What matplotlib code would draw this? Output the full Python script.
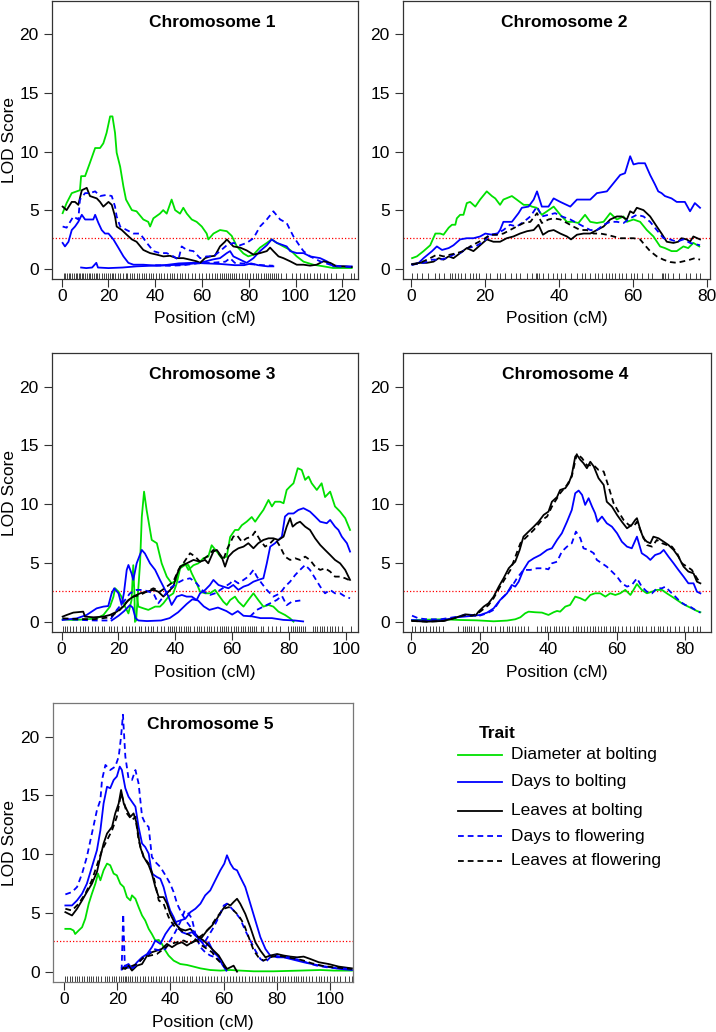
import matplotlib

matplotlib.use("Agg")

import matplotlib.pyplot as plt  # noqa: E402
from matplotlib.lines import Line2D  # noqa: E402

plt.rcParams["font.family"] = ["Liberation Sans", "DejaVu Sans"]

# ---------------------------------------------------------------- data
TRAITS = [
    "Diameter at bolting",
    "Days to bolting",
    "Leaves at bolting",
    "Days to flowering",
    "Leaves at flowering",
]
THRESHOLD = 2.58

# Chromosome 1 -------------------------------------------------------
chr1_diam = [(0.4, 4.74), (2.1, 5.6), (4.3, 6.45), (7.8, 6.7), (8.3, 7.9), (10, 7.9), (12, 9.0),
             (14.3, 10.3), (16.4, 10.3), (17.8, 10.7), (19.2, 11.6), (20.7, 13.0), (21.7, 13.0),
             (22.8, 11.6), (23.5, 9.9), (25, 8.7), (26.4, 7.0), (27.5, 5.9), (30, 5.0), (32, 4.9),
             (34.9, 4.2), (37, 4.0), (37.8, 3.6), (39.2, 4.3), (42, 4.7), (43.4, 5.0), (44.9, 4.7),
             (47, 5.9), (48.5, 5.0), (50.6, 4.7), (52, 5.2), (53.5, 4.7), (55.6, 4.2), (57.7, 4.0),
             (59.9, 3.6), (62, 3.0), (62.7, 2.5), (64.9, 3.0), (67.7, 3.3), (70.6, 3.2), (72.7, 2.8),
             (74.9, 1.9), (77.7, 1.3), (79.8, 1.05), (82, 1.2), (84.8, 1.8), (87.7, 2.2), (89.8, 2.5),
             (92, 2.2), (94.8, 1.9), (97.7, 1.6), (100.5, 1.05), (103.4, 0.6), (107.6, 0.34),
             (112, 0.2), (116, 0.06), (119, 0.06), (124, 0.06)]
chr1_daysbolt = [(0.4, 2.2), (1.4, 1.9), (2.9, 2.3), (4.3, 3.3), (5.7, 3.6), (7.1, 4.0), (8.6, 4.6),
                 (10, 4.2), (12.1, 4.2), (13.5, 4.2), (14.3, 4.6), (15.7, 3.9), (17.1, 3.3),
                 (18.5, 3.0), (20, 3.0), (22.1, 2.5), (24.2, 1.8), (26.4, 1.05), (28.5, 0.5),
                 (30.7, 0.34), (34.9, 0.34), (40.6, 0.26), (46, 0.3), (52, 0.35), (59.2, 0.5),
                 (64.9, 0.8), (67.7, 0.9), (70.6, 1.33), (72, 1.5), (73.4, 1.05), (76.3, 0.77),
                 (79.1, 0.5), (82, 0.9), (84.8, 1.5), (87.7, 2.0), (89.8, 2.5), (92, 2.2), (94.8, 2.0),
                 (96.2, 1.9), (97.7, 1.5), (100.5, 1.33), (103.4, 1.33), (106.2, 1.05), (110.5, 0.9),
                 (113.4, 0.63), (116.2, 0.2), (124, 0.2)]
chr1_daysbolt_2 = [(8.3, 0.1), (10.5, 0.05), (13, 0.1), (14.8, 0.5), (15.5, 0.1), (20, 0.05),
                   (26, 0.1), (32, 0.2), (38, 0.25), (44, 0.3), (50, 0.45), (56, 0.5), (62, 0.45),
                   (68, 0.4), (74, 0.3), (78, 0.3), (81, 0.45), (84, 0.3), (88, 0.2), (90.5, 0.2)]
chr1_leavesbolt = [(0.4, 5.3), (2.1, 5.0), (4.3, 5.7), (5.7, 5.7), (7.1, 5.45), (8.6, 6.7),
                   (10.7, 6.9), (12.1, 6.2), (15, 6.0), (16.4, 5.7), (17.8, 5.3), (20, 5.7),
                   (21.4, 5.45), (22.8, 4.46), (23.5, 3.6), (25.7, 3.3), (27.8, 2.9), (30, 2.5),
                   (32, 2.3), (34.9, 1.6), (37.8, 1.33), (40.6, 1.2), (43.5, 1.05), (46.3, 1.1),
                   (49.2, 0.9), (52, 0.9), (54.9, 0.77), (57.7, 0.63), (59.2, 0.5), (61.3, 0.9),
                   (63.4, 1.05), (65.5, 1.1), (67.7, 1.9), (69.8, 2.3), (70.6, 2.5), (72, 2.2),
                   (73.4, 1.9), (76.3, 1.8), (79.1, 1.56), (82, 1.2), (84.8, 1.33), (87.7, 1.5),
                   (89.1, 1.8), (90.5, 1.5), (92.7, 1.05), (94.8, 0.9), (97.7, 0.63), (100.5, 0.34),
                   (103.4, 0.34), (106.2, 0.26), (109, 0.34), (111.9, 0.63), (114.8, 0.5),
                   (117.6, 0.2), (120.5, 0.2), (124, 0.14)]
chr1_daysflow = [(0.4, 3.6), (2.1, 3.5), (5, 4.46), (7.1, 4.2), (7.8, 5.9), (10, 6.45), (12.1, 6.45),
                 (14.3, 6.6), (16.4, 6.2), (19.2, 6.3), (21.4, 6.2), (22.8, 5.3), (23.5, 4.46),
                 (25, 3.6), (27.8, 3.3), (30.7, 3.0), (33.5, 3.0), (36.4, 2.2), (39.2, 1.5),
                 (42, 1.33), (44.9, 1.33), (47.8, 1.05), (49.9, 0.77), (51.3, 1.9), (53.5, 1.6),
                 (56.3, 1.5), (59.2, 0.9), (62, 1.05), (64.9, 1.05), (67.7, 1.5), (70.6, 2.0),
                 (73.4, 2.2), (76.3, 2.0), (79.1, 2.2), (82, 2.6), (84.8, 3.6), (87.7, 4.2),
                 (90.5, 4.9), (93.4, 4.2), (96.2, 3.9), (97.7, 3.3), (99.1, 2.75), (101.9, 1.9),
                 (103.4, 1.5), (106.2, 1.05), (110.5, 0.63), (114.8, 0.34), (119, 0.2), (124, 0.14)]
chr1_daysflow_2 = [(40, 0.3), (46, 0.25), (52, 0.3), (58, 0.45), (64, 0.5), (70, 0.6), (72, 0.9),
                   (74, 0.5), (80, 0.4), (86, 0.3), (90.5, 0.25)]

# Chromosome 2 -------------------------------------------------------
chr2_diam = [(0.3, 0.9), (1.6, 1.05), (3.4, 1.5), (5.2, 2.0), (6.6, 3.0), (7.9, 3.0), (8.8, 2.9),
             (10.2, 3.5), (11.1, 3.75), (12, 3.75), (12.4, 4.3), (13.3, 4.6), (14.2, 4.6),
             (15.1, 5.6), (16, 5.7), (17.4, 5.3), (18.7, 5.9), (20.5, 6.6), (21.9, 6.2), (22.8, 6.0),
             (24.1, 5.45), (25, 5.9), (27.3, 6.2), (28.6, 5.9), (30.5, 5.45), (31.8, 5.45),
             (32.7, 5.3), (34, 5.2), (35.4, 4.6), (36.8, 4.9), (38.6, 5.3), (40.4, 4.6), (42.2, 4.0),
             (43.9, 4.0), (45.3, 3.9), (47.1, 4.6), (48.5, 4.0), (50.3, 3.9), (52.1, 4.0),
             (53.9, 4.74), (55.7, 4.2), (57.5, 4.46), (58.4, 4.0), (60.2, 4.2), (62, 4.0),
             (63.8, 3.3), (65.6, 2.75), (67.4, 1.9), (68.7, 1.76), (70.5, 1.5), (71.9, 1.5),
             (73.7, 1.9), (75, 1.76), (76.4, 2.2), (78, 1.9)]
chr2_daysbolt = [(0.3, 0.34), (2.1, 0.5), (3.4, 0.9), (5.7, 1.5), (7, 1.9), (8.4, 1.6), (10.2, 1.76),
                 (11.5, 2.0), (13.3, 2.5), (15.1, 2.6), (16.9, 2.6), (18.7, 2.75), (20.1, 3.0),
                 (21.9, 2.9), (23.2, 2.9), (24.1, 3.3), (25, 4.0), (26.4, 4.0), (27.3, 4.0),
                 (29.1, 4.74), (30, 5.2), (31.8, 5.3), (33.2, 5.9), (34.1, 6.6), (35.4, 5.3),
                 (37.2, 5.3), (38.6, 6.0), (40.4, 5.7), (43.1, 5.3), (44.9, 5.9), (46.7, 5.9),
                 (48.5, 5.9), (50.3, 6.45), (53, 6.6), (54.8, 7.3), (56.6, 8.0), (57.9, 8.15),
                 (59.3, 9.6), (60.2, 8.9), (61.5, 9.0), (63.3, 9.0), (64.7, 8.0), (66, 7.2),
                 (66.9, 6.6), (67.8, 6.45), (68.7, 6.2), (70.5, 6.0), (71.9, 5.7), (74.1, 5.7),
                 (75.5, 4.9), (76.8, 5.6), (78.2, 5.2)]
chr2_leavesbolt = [(0.3, 0.4), (2.5, 0.5), (4.3, 0.5), (6.1, 0.6), (7.5, 0.9), (8.8, 0.77),
                   (10.2, 1.05), (11.5, 0.9), (13.3, 1.33), (15.1, 1.76), (16.9, 1.5), (18.7, 2.0),
                   (20.5, 2.5), (22.3, 2.3), (24.1, 2.3), (25.9, 2.6), (27.7, 2.75), (29.5, 3.0),
                   (31.4, 3.2), (33.2, 3.3), (34.5, 3.75), (35.7, 2.9), (37.2, 3.2), (38.6, 3.3),
                   (40.4, 3.0), (42.2, 2.75), (43.3, 2.5), (44.9, 2.9), (46.7, 3.0), (48.5, 3.0),
                   (50.3, 3.3), (52.1, 3.6), (53.9, 4.2), (55.7, 4.46), (57, 4.46), (58.4, 4.2),
                   (59.3, 4.9), (60.2, 4.74), (61.1, 5.2), (62.9, 5.0), (64.7, 4.46), (66.5, 3.6),
                   (67.8, 3.0), (69.2, 2.3), (71, 2.2), (72.3, 2.3), (73.2, 2.6), (74.6, 2.5),
                   (75.5, 2.3), (76.4, 2.75), (78.2, 2.5)]
chr2_daysflow = [(0.3, 0.34), (3.4, 0.5), (5.7, 0.77), (7.9, 0.77), (9.7, 0.9), (11.5, 1.2),
                 (13.3, 1.33), (15.1, 1.76), (17.4, 1.9), (19.6, 2.3), (21.4, 2.9), (23.2, 3.0),
                 (25, 3.3), (26.8, 3.75), (28.6, 3.6), (30.5, 4.0), (32.3, 4.46), (34.1, 5.3),
                 (35.4, 4.46), (37.2, 4.6), (39, 4.74), (40.8, 4.46), (43.1, 4.2), (44.9, 3.9),
                 (46.7, 3.6), (48.5, 3.3), (50.3, 3.3), (52.1, 3.75), (53.9, 4.0), (55.7, 4.0),
                 (57.5, 3.9), (59.3, 4.3), (61.1, 4.6), (62.9, 4.46), (64.7, 4.0), (66.5, 3.3),
                 (68.3, 2.6), (70.1, 2.5), (71.9, 2.3), (73.7, 2.5), (75.5, 2.2), (78.2, 2.0)]
chr2_leavesflow = [(0.3, 0.34), (2.5, 0.5), (5.2, 0.9), (7, 1.2), (8.8, 1.05), (10.6, 1.2),
                   (12.4, 1.33), (14.2, 1.5), (16, 1.9), (17.8, 2.2), (19.6, 2.5), (21.4, 2.9),
                   (23.2, 2.9), (25, 3.0), (26.8, 3.3), (28.6, 3.6), (30.5, 3.9), (32.3, 4.0),
                   (34.1, 4.74), (35.4, 3.9), (37.2, 4.2), (38.6, 4.3), (40.4, 4.2), (42.2, 3.9),
                   (43.9, 3.6), (45.8, 3.3), (47.6, 3.3), (49.4, 3.0), (51.2, 3.0), (53, 2.9),
                   (54.8, 2.75), (56.6, 2.6), (58.4, 2.6), (60.2, 2.6), (62, 2.5), (63.3, 2.0),
                   (64.7, 1.5), (66.5, 1.05), (68.3, 0.77), (70.1, 0.57), (71.9, 0.5), (73.7, 0.63),
                   (75.5, 0.77), (76.8, 0.9), (78.2, 0.77)]

# Chromosome 3 -------------------------------------------------------
chr3_diam = [(0.35, 0.2), (4.1, 0.14), (8.8, 0.2), (12.3, 0.28), (14.7, 0.57), (17, 1.28),
             (18.2, 2.1), (18.8, 2.84), (20, 2.55), (21.1, 2.1), (22.3, 1.28), (23.5, 0.7),
             (24.6, 1.84), (25.2, 4.8), (25.6, 2.4), (25.8, 0.0)]
chr3_diam_2 = [(26.2, 0.1), (27.6, 5.0), (28.2, 8.9), (29, 11.06), (29.9, 9.5), (31.7, 6.95),
               (33.5, 6.67), (35.2, 4.96), (37, 3.83), (38.7, 3.26), (40.5, 3.55), (41.7, 4.68),
               (43.4, 4.96), (44.6, 4.4), (46.4, 4.8), (48.1, 4.96), (49.9, 5.4), (51.6, 5.53),
               (52.8, 6.5), (54.6, 5.96), (56.3, 5.4), (58.1, 5.53), (59.3, 7.2), (61, 7.8),
               (62.2, 7.8), (63.4, 8.2), (65.1, 8.5), (66.9, 8.9), (68.1, 8.5), (69.8, 9.1),
               (71, 9.5), (72.8, 10.35), (74, 9.8), (75.1, 10.2), (76.9, 10.2), (78.1, 10.07),
               (79.2, 11.2), (80.4, 11.5), (81.6, 11.77), (83.1, 13.05), (84.5, 12.9), (85.7, 12.06),
               (86.9, 12.34), (88, 11.77), (89.8, 11.2), (91.5, 11.77), (92.7, 10.6), (94.5, 11.06),
               (96.2, 9.8), (98, 9.36), (99.8, 8.8), (101.5, 7.8)]
chr3_diam_3 = [(26.4, 2.27), (27, 1.28), (28.8, 1.13), (30.5, 1.0), (32.9, 1.28), (34.6, 1.28),
               (35.8, 1.56), (37.6, 2.13), (39.3, 2.41), (40.5, 3.26), (41.7, 4.54), (43.4, 4.82),
               (44.6, 4.82), (45.8, 4.1), (47.5, 3.26), (48.7, 2.55), (50.5, 2.41), (52.2, 2.41),
               (54, 2.7), (55.2, 2.27), (56.9, 1.7), (58.1, 1.42), (59.3, 1.84), (61, 2.13),
               (62.2, 1.7), (64, 1.28), (65.7, 1.84), (67.5, 2.41), (69.2, 1.84), (71, 1.28),
               (72.8, 1.42), (74.5, 1.28), (76.3, 0.85), (78.6, 0.57), (80.4, 0.28), (81.6, 0.0)]
chr3_daysbolt = [(0.35, 0.14), (5.3, 0.28), (8.8, 0.57), (12.3, 1.13), (14.7, 1.28), (16.4, 1.33),
                 (17.6, 2.41), (18.5, 2.84), (20, 2.41), (21.1, 1.42), (21.9, 2.41), (22.9, 4.4),
                 (23.5, 4.82), (24.6, 4.1), (25.2, 3.55), (26.4, 4.96), (28.2, 6.1), (29.3, 5.8),
                 (31.1, 4.96), (32.9, 4.4), (34.6, 3.55), (36.4, 2.7), (37.6, 2.13), (38.7, 1.42),
                 (40.5, 2.13), (42.3, 2.27), (44, 2.13), (45.8, 2.13), (47.5, 1.84), (48.7, 2.41),
                 (50.5, 2.7), (52.2, 3.12), (53.4, 3.55), (55.2, 3.12), (56.9, 2.98), (58.7, 2.84),
                 (60.4, 3.12), (62.2, 2.7), (64, 2.98), (65.7, 3.12), (67.5, 3.4), (69.2, 3.55),
                 (71, 3.69), (72.2, 4.96), (73.4, 6.38), (75.1, 6.67), (76.3, 6.95), (77.5, 7.23),
                 (78.6, 8.94), (79.8, 9.2), (81.6, 9.2), (83.3, 9.5), (85.1, 9.65), (87.4, 9.36),
                 (89.2, 8.94), (91, 8.5), (93.3, 8.37), (94.5, 8.65), (96.2, 8.08), (97.4, 7.8),
                 (98.6, 7.23), (100.4, 6.67), (101.5, 5.96)]
chr3_daysbolt_2 = [(17.6, 0.1), (20, 0.5), (22, 0.9), (24, 1.4), (25, 1.2), (26, 0.3), (27, 0.1),
                   (30, 0.05), (35, 0.1), (38, 0.3), (41, 0.8), (44, 1.5), (46, 1.9), (48, 1.8),
                   (50, 1.3), (52, 1.0), (55, 1.2), (58, 0.9), (60, 0.6), (62, 0.9), (64, 0.5),
                   (67, 0.45), (70, 0.3), (74, 0.3), (78, 0.15), (82, 0.1), (85, 0.02)]
chr3_leavesbolt = [(0.35, 0.43), (1.8, 0.57), (4.1, 0.77), (7.6, 0.85), (8.2, 0.43), (11.2, 0.37),
                   (14.7, 0.43), (17, 0.57), (19.4, 0.85), (21.7, 1.28), (23.5, 1.84), (25.2, 2.13),
                   (27.6, 2.41), (29.9, 2.55), (32.3, 2.7), (34, 2.55), (35.8, 2.13), (37.6, 2.55),
                   (39.3, 2.98), (40.5, 3.97), (41.7, 4.68), (44, 4.96), (46.4, 5.25), (48.7, 5.1),
                   (50.5, 5.25), (51.6, 4.96), (53.4, 5.96), (54.6, 6.1), (56.3, 5.53), (57.5, 4.68),
                   (58.7, 5.53), (60.4, 5.96), (62.2, 6.24), (64, 6.38), (65.7, 6.67), (67.5, 6.24),
                   (69.2, 6.67), (71, 6.95), (72.8, 7.09), (74.5, 7.09), (76.3, 6.95), (78.1, 7.23),
                   (79.2, 8.08), (80.4, 8.8), (81.3, 8.08), (82.7, 8.37), (83.9, 8.5), (85.7, 8.08),
                   (87.4, 7.8), (89.2, 7.09), (91, 6.52), (92.7, 6.1), (94.5, 5.67), (96.2, 5.25),
                   (98, 4.96), (99.8, 4.4), (101.5, 3.55)]
chr3_daysflow = [(0.35, 0.25), (6, 0.15), (12, 0.1), (17, 0.1), (19.4, 1.0), (22.3, 1.84),
                 (24, 2.4), (26.4, 2.7), (28.8, 2.7), (32.3, 2.41), (34, 1.56), (35.8, 2.13),
                 (38.1, 2.84), (40.5, 3.26), (42.8, 3.55), (45.2, 3.69), (47.5, 3.26), (49.9, 2.55),
                 (52.2, 2.27), (54, 2.41), (55.8, 2.7), (57.5, 2.98), (59.3, 3.26), (60.4, 3.55),
                 (62.2, 3.26), (64, 3.55), (65.7, 3.83), (67.5, 4.4), (68.7, 3.83), (70.4, 3.26),
                 (72.2, 2.7), (74.5, 2.13), (76.9, 2.41), (78.6, 2.98), (80.4, 3.4), (82.2, 3.97),
                 (83.9, 4.4), (85.7, 4.82), (87.4, 4.4), (89.2, 3.69), (91, 2.98), (92.7, 2.41),
                 (94.5, 2.7), (96.2, 2.41), (98, 2.41), (99.8, 2.13), (101.5, 1.99)]
chr3_daysflow_2 = [(66.3, 0.43), (68.7, 1.0), (71, 1.28), (73.4, 1.56), (75.7, 1.84), (77.5, 2.2),
                   (79.2, 1.4), (81, 1.7), (84, 1.8)]
chr3_leavesflow = [(0.35, 0.28), (5.3, 0.23), (11.2, 0.2), (17, 0.37), (20.5, 1.0), (22.9, 1.7),
                   (25.2, 2.13), (27.6, 2.27), (29.9, 2.55), (32.3, 2.84), (34.6, 2.55), (37, 2.98),
                   (39.3, 3.4), (41.1, 4.4), (42.8, 4.96), (45.2, 5.82), (47, 5.53), (48.7, 5.1),
                   (51.1, 5.53), (53.4, 6.1), (55.2, 5.82), (56.9, 5.25), (58.1, 6.1), (60.4, 7.23),
                   (61.6, 7.38), (63.4, 6.8), (65.1, 7.09), (66.9, 7.23), (68.1, 7.66), (69.8, 6.95),
                   (71.6, 6.38), (73.4, 6.67), (75.1, 7.09), (76.9, 6.38), (78.6, 5.53), (80.4, 5.25),
                   (82.2, 5.39), (83.9, 5.25), (85.7, 5.53), (87.4, 5.25), (89.2, 4.68), (91, 4.4),
                   (92.7, 4.54), (94.5, 4.26), (96.2, 3.83), (98, 3.83), (99.8, 3.69), (101.5, 3.5)]

# Chromosome 4 -------------------------------------------------------
chr4_diam = [(0.3, 0.14), (9.5, 0.2), (14.4, 0.14), (19.2, 0.11), (24.1, 0.03), (28, 0.09),
             (30.4, 0.2), (31.9, 0.37), (33.3, 0.71), (34.3, 0.85), (36.2, 0.8), (38.2, 0.77),
             (40.1, 0.57), (41.6, 0.8), (42.6, 0.91), (43.5, 0.85), (45, 1.28), (46.4, 1.42),
             (47.9, 2.13), (49.4, 1.99), (50.8, 1.79), (52.3, 2.27), (53.7, 2.41), (55.2, 2.41),
             (56.7, 2.13), (58.1, 2.41), (59.6, 2.27), (61, 2.41), (62.5, 2.7), (64, 2.27),
             (64.9, 2.7), (65.9, 3.2), (67.3, 2.7), (68.8, 2.41), (70.3, 2.55), (71.7, 2.7),
             (73.2, 2.7), (74.6, 2.41), (76.1, 2.13), (77.6, 1.84), (79, 1.56), (80.5, 1.33),
             (81.9, 1.13), (83.4, 0.91), (84.4, 0.8)]
chr4_daysbolt = [(0.3, 0.14), (4.7, 0.06), (9.5, 0.14), (13.4, 0.37), (17.3, 0.48), (20.2, 0.57),
                 (22.2, 0.77), (24.1, 1.13), (26, 1.84), (28, 2.41), (29.4, 3.12), (30.4, 2.98),
                 (31.4, 3.4), (32.8, 4.4), (34.3, 5.1), (35.8, 5.39), (37.7, 5.67), (39.7, 6.1),
                 (41.1, 6.24), (42.6, 6.95), (44, 7.52), (45.5, 8.5), (46.9, 9.5), (47.9, 10.92),
                 (48.9, 11.15), (49.9, 10.78), (50.8, 9.93), (51.8, 10.5), (52.8, 9.79),
                 (53.7, 9.22), (54.4, 8.5), (55.7, 8.94), (57.1, 8.37), (58.6, 8.08), (60.1, 7.52),
                 (61.5, 6.8), (63, 6.38), (64.4, 6.24), (65.9, 7.23), (67.3, 5.82), (68.8, 5.53),
                 (69.8, 5.25), (71.2, 5.67), (72.7, 5.82), (73.7, 6.1), (75.1, 5.53), (76.6, 4.96),
                 (78, 4.4), (79.5, 3.83), (80.9, 3.26), (82.4, 3.26), (83.4, 2.55), (84.4, 2.41)]
chr4_leavesbolt = [(0.3, 0.06), (4.7, 0.0), (9.5, 0.06), (12.4, 0.28), (14.4, 0.48), (15.8, 0.62),
                   (17.8, 0.57), (18.8, 0.51), (19.7, 0.85), (21.2, 1.28), (22.6, 1.56), (24.1, 2.13),
                   (25.6, 2.98), (27, 3.69), (28.5, 4.54), (29.4, 4.82), (30.4, 5.1), (31.7, 6.1),
                   (32.8, 7.23), (34.3, 7.66), (35.8, 8.08), (37.2, 8.5), (38.7, 9.08), (40.1, 9.36),
                   (41.1, 10.2), (42.6, 10.6), (43.5, 11.2), (45, 11.35), (46, 11.77), (46.9, 12.48),
                   (47.9, 14.04), (48.4, 14.18), (49.4, 13.76), (50.3, 13.48), (51.3, 13.05),
                   (52.3, 13.6), (53.3, 13.2), (54.7, 12.2), (56.2, 11.63), (57.1, 10.2),
                   (58.6, 9.79), (60.1, 9.08), (61.5, 8.5), (63, 7.94), (64.4, 8.23), (65.4, 8.65),
                   (65.9, 8.8), (66.9, 7.8), (67.8, 7.09), (68.8, 6.8), (69.8, 6.67), (70.7, 7.23),
                   (72.2, 7.09), (73.7, 6.8), (75.1, 6.52), (76.6, 6.1), (78, 5.53), (79.5, 4.68),
                   (80.9, 4.26), (82.4, 4.11), (83.4, 3.4), (84.4, 3.26)]
chr4_daysflow = [(0.3, 0.51), (2.2, 0.28), (4.7, 0.2), (8.6, 0.2), (12.4, 0.37), (16.3, 0.57),
                 (19.7, 0.48), (22.2, 0.71), (24.1, 1.0), (26, 1.84), (28, 2.41), (29.4, 2.98),
                 (30.9, 3.69), (32.8, 4.4), (34.8, 4.4), (36.7, 4.54), (38.7, 4.54), (40.1, 4.45),
                 (41.1, 4.96), (42.6, 5.1), (44, 5.96), (45.5, 6.38), (46.9, 6.67), (48.1, 7.66),
                 (49.4, 7.09), (50.3, 6.24), (51.8, 6.1), (53.3, 5.82), (54.2, 5.25), (55.7, 4.96),
                 (57.1, 4.68), (58.6, 4.26), (60.1, 3.83), (61.5, 3.26), (63, 2.98), (64.4, 3.12),
                 (65.9, 3.69), (67.3, 2.98), (68.8, 2.55), (70.3, 2.41), (71.7, 2.84), (73.2, 2.84),
                 (74.2, 2.98), (75.6, 2.55), (77.1, 2.13), (78.5, 1.7), (80, 1.42), (81.4, 1.28),
                 (82.9, 1.0), (84.4, 0.77)]
chr4_leavesflow = [(0.3, 0.06), (4.7, 0.0), (9.5, 0.06), (12.4, 0.28), (14.4, 0.45), (15.8, 0.55),
                   (17.8, 0.5), (19.7, 0.75), (22.6, 1.4), (24.1, 2.0), (26, 2.98), (29, 4.4),
                   (31.9, 6.67), (33.3, 7.09), (35.8, 7.8), (38.2, 8.65), (39.7, 8.94), (41.1, 9.79),
                   (43.5, 10.92), (45.5, 11.63), (46.9, 12.34), (48.4, 14.3), (49.9, 13.9),
                   (51.3, 13.3), (53.3, 13.3), (54.7, 12.9), (56.2, 12.77), (57.6, 11.5),
                   (59.1, 10.07), (60.5, 9.36), (62, 8.65), (63.5, 8.23), (64.9, 8.08), (65.9, 8.5),
                   (67.3, 7.52), (68.8, 6.52), (70.3, 6.38), (71.7, 6.95), (73.2, 6.67), (74.6, 6.52),
                   (76.1, 6.38), (77.6, 5.82), (79, 4.96), (80.5, 4.68), (81.9, 4.4), (83.4, 3.69),
                   (84.4, 3.26)]

# Chromosome 5 -------------------------------------------------------
chr5_diam = [(0.4, 3.64), (2.3, 3.64), (3.5, 3.5), (4.1, 3.2), (5.4, 3.5), (6.7, 3.78), (7.9, 4.5),
             (9.2, 5.78), (10.4, 6.63), (11.7, 7.48), (12.7, 8.34), (13.6, 7.77), (14.8, 8.62),
             (16.1, 9.19), (17.3, 9.05), (18.6, 8.34), (19.8, 8.19), (21.1, 7.48), (22.4, 7.2),
             (23.6, 6.34), (24.9, 6.06), (25.5, 6.49), (26.8, 6.2), (28, 5.49), (29.3, 4.78),
             (30.5, 4.35), (31.8, 3.64), (33, 3.2), (34.3, 2.65), (35.6, 2.7), (36.8, 2.36),
             (38.1, 1.79), (39.3, 1.37), (41.2, 0.94), (43.7, 0.65), (46.2, 0.57), (48.7, 0.43),
             (51.3, 0.28), (55, 0.14), (58.8, 0.09), (62.6, 0.14), (66.3, 0.09), (71.4, 0.03),
             (78.9, 0.03), (88.9, 0.09), (96.5, 0.14), (101.5, 0.09), (108.4, 0.09)]
chr5_daysbolt = [(0.4, 5.63), (2.9, 5.63), (4.8, 6.06), (6.7, 6.63), (8.5, 7.48), (10.4, 8.9),
                 (12.3, 10.33), (13.6, 12.03), (14.8, 14.3), (16.1, 15.73), (17.3, 15.6),
                 (18.6, 16.3), (19.8, 16.6), (20.9, 17.44), (21.7, 17.15), (23, 15.6), (24.2, 14.88),
                 (25.5, 14.45), (26.8, 14.03), (28, 12.3), (29.3, 10.9), (30.5, 10.6), (31.8, 10.04),
                 (33, 8.34), (34.9, 8.05), (36.2, 7.9), (37.4, 7.2), (38.7, 6.06), (39.9, 5.2),
                 (41.2, 4.64), (42.5, 3.93), (44.3, 3.36), (46.2, 3.2), (48.1, 3.36), (50, 2.93),
                 (51.9, 2.5), (53.1, 2.08), (54.4, 2.5), (56.3, 1.65), (58.2, 1.22), (59.4, 0.65),
                 (61.1, 0.09)]
chr5_daysbolt_2 = [(21.7, 0.23), (23, 0.51), (24.2, 0.65), (25.5, 0.28), (27.4, 0.8), (29.3, 1.22),
                   (31.2, 1.5), (33, 2.08), (34.3, 2.65), (36.2, 2.36), (38.1, 3.2), (39.9, 3.78),
                   (41.8, 4.21), (43.7, 4.35), (45.6, 4.5), (47.5, 5.06), (49.4, 5.35), (51.3, 5.78),
                   (53.1, 6.49), (55, 6.91), (56.9, 7.77), (58.8, 8.62), (60.3, 9.19), (61.3, 9.9),
                   (62.6, 9.19), (63.8, 8.76), (65.1, 8.62), (66.3, 8.05), (68.2, 7.2), (70.1, 5.78),
                   (72, 4.35), (73.9, 2.93), (75.8, 1.93), (77.6, 1.37), (80.2, 1.22), (82.7, 1.22),
                   (85.2, 1.08), (87.7, 0.94), (90.2, 0.8), (93.3, 0.65), (96.5, 0.51), (100.3, 0.37),
                   (104, 0.23), (108.4, 0.14)]
chr5_leavesbolt = [(0.4, 5.06), (2.9, 4.78), (4.8, 5.35), (6.7, 6.06), (8.5, 6.77), (10.4, 7.48),
                   (12.3, 8.48), (13.6, 9.76), (14.8, 10.9), (16.1, 11.75), (18, 12.32), (19.2, 13.46),
                   (20.5, 14.31), (21.4, 15.45), (22.4, 14.31), (23.6, 13.74), (24.9, 13.17),
                   (26.1, 13.46), (27.1, 12.75), (28.6, 10.61), (29.9, 9.76), (31.8, 9.05),
                   (33, 8.34), (34.3, 7.2), (35.6, 6.34), (37.4, 6.34), (38.7, 5.78), (39.9, 4.92),
                   (41.8, 4.07), (43.7, 3.64), (45.6, 3.5), (47.5, 3.64), (48.7, 3.36), (50.6, 2.93),
                   (52.5, 2.65), (54.4, 2.22), (56.3, 1.79), (58.2, 1.37), (60.1, 0.65), (61.3, 0.23),
                   (62.6, 0.37), (63.8, 0.51), (65.1, 0.0)]
chr5_leavesbolt_2 = [(21.7, 0.37), (23, 0.23), (24.2, 0.51), (25.5, 0.09), (27.4, 0.51),
                     (29.3, 0.65), (31.2, 1.37), (33, 1.65), (34.9, 1.79), (36.7, 1.93), (38.7, 2.36),
                     (40.6, 2.08), (42.5, 2.36), (44.3, 2.5), (46.2, 2.22), (48.1, 2.5), (50, 2.65),
                     (51.9, 2.93), (53.8, 3.5), (55.7, 3.93), (57.5, 4.5), (59.4, 5.2), (61.3, 5.78),
                     (62.6, 5.63), (63.8, 5.92), (65.1, 6.2), (66.3, 5.78), (68.2, 4.92), (70.1, 3.78),
                     (72, 2.5), (73.9, 1.79), (75.8, 1.22), (77.6, 1.37), (80.2, 1.5), (82.7, 1.37),
                     (85.2, 1.28), (87.7, 1.22), (90.2, 1.28), (92.7, 1.08), (95.9, 0.8), (99.6, 0.65),
                     (103.4, 0.43), (108.4, 0.28)]
chr5_daysflow = [(0.4, 6.57), (2.9, 6.77), (4.8, 7.2), (6.7, 8.34), (8.5, 9.76), (10.4, 11.75),
                 (12.3, 13.74), (13.6, 14.6), (14.2, 16.3), (15.5, 17.58), (17.3, 17.15),
                 (19.2, 17.44), (20.5, 18.29), (21.4, 20.0), (22.1, 21.85), (23, 18.3), (24.2, 16.44),
                 (25.5, 16.3), (26.8, 17.15), (28, 16.0), (29.3, 13.2), (30.5, 12.6), (31.8, 12.3),
                 (33, 9.76), (34.3, 9.33), (36.2, 8.9), (38.1, 8.2), (39.9, 7.48), (41.2, 6.77),
                 (42.5, 5.78), (44.3, 4.92), (46.2, 4.21), (48.1, 3.64), (50, 2.79), (51.3, 2.08),
                 (53.1, 1.65), (55, 1.37), (56.9, 1.22), (58.8, 0.94), (60.7, 0.23)]
chr5_daysflow_2 = [(21.6, 0.1), (22.2, 4.9), (22.8, 0.5), (23.6, 0.37), (25.5, 0.23), (27.4, 0.65),
                   (29.3, 1.08), (31.8, 1.5), (33.7, 1.93), (36.2, 1.79), (38.1, 1.93), (39.9, 2.65),
                   (41.8, 3.36), (43.7, 4.21), (45.4, 5.2), (46.9, 4.92), (48.1, 4.5), (49.4, 3.2),
                   (51.3, 2.65), (52.5, 2.36), (54.4, 3.07), (56.3, 3.78), (58.2, 4.64), (60.1, 5.63),
                   (61.3, 5.78), (62.6, 5.49), (64.4, 5.06), (66.3, 4.5), (68.2, 3.5), (70.1, 2.65),
                   (72, 1.79), (73.9, 1.08), (75.8, 0.8), (77.6, 1.22), (79.5, 1.37), (82, 1.22),
                   (84.5, 1.22), (87.1, 1.08), (89.6, 0.94), (92.1, 0.71), (95.2, 0.51), (99, 0.37),
                   (102.8, 0.28), (108.4, 0.23)]
chr5_leavesflow = [(0.4, 5.35), (2.9, 5.2), (5.4, 5.78), (7.9, 6.63), (10.4, 7.77), (12.3, 9.05),
                   (14.2, 10.33), (16.1, 11.18), (18, 12.03), (19.8, 13.17), (21.4, 15.16),
                   (22.4, 14.45), (23.6, 13.46), (25.5, 12.89), (26.8, 13.17), (28, 11.18),
                   (29.9, 9.76), (31.8, 9.19), (33.7, 8.05), (35.6, 6.06), (37.4, 5.78), (39.3, 4.64),
                   (41.2, 3.93), (43.1, 3.64), (45, 3.36), (47.5, 3.07), (50, 2.65), (51.9, 2.22),
                   (53.8, 1.93), (55.7, 1.65), (57.5, 1.08), (59.4, 0.65), (61.3, 0.23)]
chr5_leavesflow_2 = [(21.7, 0.23), (24.2, 0.37), (27.4, 0.65), (29.9, 1.22), (32.4, 1.37),
                     (34.9, 1.5), (37.4, 1.93), (39.9, 2.36), (42.5, 2.5), (45, 2.65), (47.5, 2.36),
                     (50, 2.79), (52.5, 3.2), (55, 3.78), (57.5, 4.64), (60.1, 5.35), (62, 5.49),
                     (63.8, 5.2), (65.7, 4.78), (67.6, 4.07), (69.5, 2.93), (71.4, 1.79), (73.2, 1.22),
                     (75.1, 0.94), (77.6, 1.22), (80.2, 1.37), (82.7, 1.28), (85.2, 1.17), (87.7, 1.08),
                     (90.2, 0.94), (93.3, 0.71), (97, 0.51), (101.5, 0.37), (108.4, 0.23)]

# Marker positions (cM) drawn as a rug along each x axis ----------------
chr1_markers = [0.8, 1.5, 2.2, 3.0, 3.6, 4.4, 5.1, 5.9, 6.5, 7.2, 8.0, 8.6, 9.3, 10.1, 10.8, 11.5,
                12.3, 13.0, 13.8, 14.5, 15.3, 16.0, 17.2, 18.0, 18.9, 19.7, 20.6, 21.3, 22.1, 23.0,
                24.2, 25.0, 26.1, 27.3, 28.0, 29.2, 30.1, 31.0, 32.4, 33.2, 34.5, 35.3, 36.1, 37.5,
                38.2, 39.0, 40.3, 41.4, 42.6, 43.8, 45.0, 46.1, 47.2, 48.0, 49.3, 50.5, 51.6, 52.8,
                54.0, 55.6, 57.0, 58.8, 60.1, 61.5, 63.0, 64.2, 65.7, 66.5, 67.8, 68.6, 69.5, 70.4,
                71.1, 72.0, 72.9, 73.6, 74.5, 75.8, 77.0, 78.3, 79.4, 80.6, 81.7, 83.0, 84.1, 85.2,
                86.5, 87.3, 88.4, 89.0, 89.9, 90.6, 91.5, 92.4, 93.7, 96.0, 98.5, 100.2, 101.8,
                103.5, 104.9, 106.3, 107.8, 109.2, 110.6, 112.0, 113.5, 115.0, 117.2, 120.4,
                123.6, 125.0]
chr2_markers = [0.3, 1.6, 3.0, 4.5, 6.4, 7.5, 9.0, 10.5, 11.2, 12.0, 12.8, 13.5, 14.6, 16.0, 16.9,
                17.6, 18.5, 20.3, 21.5, 23.3, 24.2, 25.5, 27.0, 28.4, 29.6, 31.5, 32.7, 33.8, 34.2,
                34.6, 35.7, 37.0, 38.5, 39.5, 40.6, 41.8, 43.4, 45.0, 46.3, 47.0, 48.5, 49.8, 50.6,
                51.7, 52.8, 53.6, 54.5, 55.3, 56.2, 57.0, 58.3, 59.5, 60.3, 61.2, 62.5, 64.0, 65.3,
                67.8, 68.3, 68.8, 69.5, 71.0, 72.4, 74.5, 75.6, 77.0, 78.2]
chr3_markers = [0.3, 1.2, 2.0, 3.0, 4.0, 5.2, 6.3, 7.5, 8.2, 9.3, 10.6, 11.8, 12.9, 14.1, 15.0,
                16.5, 17.3, 18.4, 19.4, 21.3, 22.5, 23.6, 24.8, 25.9, 27.1, 28.0, 29.2, 30.3, 31.5,
                32.2, 33.5, 34.8, 35.9, 37.4, 38.3, 38.9, 39.5, 40.3, 41.2, 42.0, 43.0, 43.9, 44.5,
                45.3, 46.6, 47.6, 48.5, 49.2, 50.1, 51.0, 51.9, 52.6, 53.5, 54.8, 55.6, 56.3, 57.0,
                57.8, 58.7, 59.6, 60.5, 61.4, 62.1, 63.0, 63.8, 64.6, 65.5, 66.4, 67.0, 67.7, 68.5,
                70.0, 71.0, 72.5, 74.1, 75.3, 76.8, 79.8, 80.6, 81.4, 82.0, 82.8, 83.5, 84.2, 85.0,
                85.8, 88.5, 89.3, 90.0, 90.9, 91.7, 92.4, 93.5, 94.4, 95.2, 96.3, 97.3, 98.6, 102.0]
chr4_markers = [0.3, 1.2, 2.5, 3.4, 4.5, 5.6, 6.5, 7.4, 8.3, 9.2, 13.6, 15.3, 15.8, 16.3, 17.0,
                17.5, 18.3, 19.5, 20.9, 22.1, 23.4, 24.6, 26.0, 26.9, 27.9, 28.6, 29.4, 30.3, 31.2,
                32.1, 33.0, 34.0, 36.8, 38.0, 39.0, 39.8, 40.6, 41.6, 42.3, 43.2, 44.1, 45.0, 45.9,
                47.2, 48.0, 48.8, 49.5, 50.4, 51.3, 52.1, 53.0, 53.6, 54.4, 55.3, 56.2, 57.0, 58.0,
                58.8, 59.4, 60.4, 61.5, 62.7, 64.0, 64.9, 65.8, 66.6, 67.5, 68.5, 70.0, 71.0, 71.9,
                72.7, 73.5, 74.6, 75.5, 76.9, 78.2, 79.6, 80.9, 82.3, 83.4, 84.3]
chr5_markers = [0.4, 1.2, 2.0, 2.9, 3.9, 4.7, 5.6, 6.5, 7.5, 8.4, 9.3, 10.1, 10.9, 11.8, 12.6,
                14.0, 15.3, 16.1, 17.0, 17.8, 18.6, 19.5, 20.7, 21.5, 22.1, 22.7, 23.3, 24.0, 24.8,
                25.6, 26.5, 27.3, 28.4, 29.5, 30.6, 31.6, 32.8, 33.6, 34.5, 35.5, 36.6, 37.7, 38.8,
                39.9, 41.0, 42.1, 43.1, 44.2, 45.1, 46.2, 47.3, 48.3, 49.5, 50.7, 51.8, 53.0, 54.2,
                55.3, 56.4, 57.5, 58.9, 60.2, 61.3, 62.5, 63.5, 64.6, 65.9, 67.1, 68.2, 69.5, 70.7,
                71.9, 73.0, 74.1, 75.0, 76.0, 77.2, 78.3, 79.1, 80.0, 81.2, 82.3, 83.3, 84.4, 85.5,
                86.4, 87.3, 88.2, 89.1, 90.0, 91.0, 92.2, 93.5, 94.7, 95.8, 96.9, 98.0, 99.0, 100.2,
                101.5, 102.9, 104.0, 105.8, 107.2, 108.3]

# ------------------------------------------------------------- styling
GREEN = "#00e000"
BLUE = "#0000ff"
DASH = (0, (3.2, 2.2))
TRAIT_STYLE = {
    "Diameter at bolting": dict(color=GREEN, linestyle="-"),
    "Days to bolting": dict(color=BLUE, linestyle="-"),
    "Leaves at bolting": dict(color="black", linestyle="-"),
    "Days to flowering": dict(color=BLUE, linestyle=DASH),
    "Leaves at flowering": dict(color="black", linestyle=DASH),
}

# (title, pixel box l,t,r,b, xlim, markers, curves, frame colour, show ylabel)
PANELS = [
    ("Chromosome 1", (52, 1, 358, 279), (-4.15, 126.7), chr1_markers,
     [("Diameter at bolting", chr1_diam), ("Days to bolting", chr1_daysbolt),
      ("Days to bolting", chr1_daysbolt_2), ("Leaves at bolting", chr1_leavesbolt),
      ("Days to flowering", chr1_daysflow), ("Days to flowering", chr1_daysflow_2)],
     "#333333", True),
    ("Chromosome 2", (403, 1, 710, 279), (-2.16, 80.9), chr2_markers,
     [("Diameter at bolting", chr2_diam), ("Days to bolting", chr2_daysbolt),
      ("Leaves at bolting", chr2_leavesbolt), ("Days to flowering", chr2_daysflow),
      ("Leaves at flowering", chr2_leavesflow)],
     "#333333", False),
    ("Chromosome 3", (52, 353, 358, 632), (-3.4, 104.3), chr3_markers,
     [("Diameter at bolting", chr3_diam), ("Diameter at bolting", chr3_diam_2),
      ("Diameter at bolting", chr3_diam_3), ("Days to bolting", chr3_daysbolt),
      ("Days to bolting", chr3_daysbolt_2), ("Leaves at bolting", chr3_leavesbolt),
      ("Days to flowering", chr3_daysflow), ("Days to flowering", chr3_daysflow_2),
      ("Leaves at flowering", chr3_leavesflow)],
     "#333333", True),
    ("Chromosome 4", (403, 353, 711, 632), (-2.33, 87.5), chr4_markers,
     [("Diameter at bolting", chr4_diam), ("Days to bolting", chr4_daysbolt),
      ("Leaves at bolting", chr4_leavesbolt), ("Days to flowering", chr4_daysflow),
      ("Leaves at flowering", chr4_leavesflow)],
     "#333333", False),
    ("Chromosome 5", (53, 703, 353, 982), (-4.26, 108.8), chr5_markers,
     [("Diameter at bolting", chr5_diam), ("Days to bolting", chr5_daysbolt),
      ("Days to bolting", chr5_daysbolt_2), ("Leaves at bolting", chr5_leavesbolt),
      ("Leaves at bolting", chr5_leavesbolt_2), ("Days to flowering", chr5_daysflow),
      ("Days to flowering", chr5_daysflow_2), ("Leaves at flowering", chr5_leavesflow),
      ("Leaves at flowering", chr5_leavesflow_2)],
     "#777777", True),
]

W, H = 716, 1032
FS = 12.5


def fig_rect(box):
    left, top, right, bottom = box
    return [left / W, 1 - bottom / H, (right - left) / W, (bottom - top) / H]


fig = plt.figure(figsize=(W / 100, H / 100), dpi=100)
fig.patch.set_facecolor("white")

for title, box, xlim, markers, curves, frame, show_ylab in PANELS:
    ax = fig.add_axes(fig_rect(box))
    for trait, pts in curves:
        xs = [p[0] for p in pts]
        ys = [p[1] for p in pts]
        ax.plot(xs, ys, lw=1.3, solid_joinstyle="round", **TRAIT_STYLE[trait])

    ax.axhline(THRESHOLD, color="red", lw=0.9, linestyle=(0, (1, 1.6)), zorder=0.5)
    # marker rug
    ax.vlines(markers, 0, 0.022, transform=ax.get_xaxis_transform(),
              color="#222222", lw=0.6)

    ax.set_xlim(*xlim)
    ax.set_ylim(-0.88, 22.85)
    ax.set_yticks([0, 5, 10, 15, 20])
    ax.set_xticks(range(0, int(xlim[1]) + 1, 20))
    ax.tick_params(direction="out", length=5.5, width=0.8, labelsize=FS,
                   color="#333333")
    ax.tick_params(axis="x", pad=1.5)
    ax.tick_params(axis="y", pad=4)
    for sp in ax.spines.values():
        sp.set_color(frame)
        sp.set_linewidth(0.9)
    ax.set_xlabel("Position (cM)", fontsize=FS)
    ax.xaxis.set_label_coords(0.5, -40 / (box[3] - box[1]))
    ax.xaxis.label.set_va("center")
    if show_ylab:
        ax.set_ylabel("LOD Score", fontsize=FS)
        ax.yaxis.set_label_coords((17 - box[0]) / (box[2] - box[0]), 0.5)
    ax.text(0.525, 0.924, title, transform=ax.transAxes, ha="center", va="center",
            fontsize=FS, fontweight="bold")

# legend, drawn in figure pixel space
fig.text(497 / W, 1 - 733 / H, "Trait", ha="center", va="center", fontsize=FS,
         fontweight="bold")
LEGEND_ROWS = [755, 781.7, 810.7, 836, 861]
for trait, row in zip(TRAITS, LEGEND_ROWS):
    yy = 1 - row / H
    fig.add_artist(Line2D([458 / W, 502 / W], [yy, yy], lw=1.3, **TRAIT_STYLE[trait]))
    fig.text(511 / W, yy, trait, ha="left", va="center", fontsize=FS)

fig.savefig("out.png", dpi=100)
